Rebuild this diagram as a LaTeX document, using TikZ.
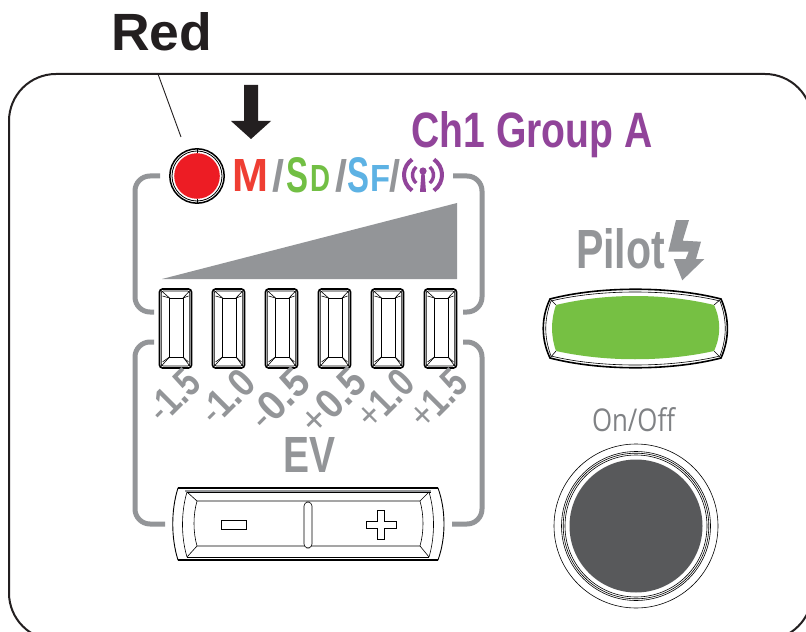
\documentclass[tikz,border=0pt]{standalone}
\usepackage{graphicx}
\usepackage{fontspec}
\setmainfont{Liberation Sans}
\newfontfamily\opensans{Open Sans}
\definecolor{ink}{HTML}{231F20}
\definecolor{fgray}{HTML}{939598}
\definecolor{tgray}{HTML}{808285}
\definecolor{mred}{HTML}{EF3E33}
\definecolor{ledred}{HTML}{ED1C24}
\definecolor{sdgreen}{HTML}{72BF44}
\definecolor{sfblue}{HTML}{5DB2E4}
\definecolor{purp}{HTML}{91449A}
\definecolor{pgreen}{HTML}{76C043}
\definecolor{dgray}{HTML}{58595B}
\newcommand{\fitbox}[3]{\resizebox{#1bp}{#2bp}{#3}}
\newcommand{\evl}[5]{\node[evlabel] (#1) at (#2) {\fitbox{#3}{#4}{#5}};}
\tikzset{
  txt/.style={inner sep=0pt,outer sep=0pt,anchor=north west},
  evlabel/.style={inner sep=0pt,outer sep=0pt,rotate=45,text=fgray,font=\bfseries},
  framegray/.style={draw=fgray,line width=5bp,rounded corners=15bp},
  thinl/.style={draw=ink,line width=0.9bp},
  hair/.style={draw=black,line width=0.6bp},
  panel/.style={draw=ink,line width=2bp,rounded corners=47bp},
  ledbox/.pic={
    \draw[black,line width=1.6bp,rounded corners=3bp] (0,0) rectangle (32,79);
    \draw[hair,rounded corners=2bp] (1.8,2) rectangle (30.2,77);
    \draw[hair] (10,9) rectangle (23.5,68);
    \draw[hair] (1,1) -- (10,9) (31,1) -- (23.5,9) (1,78) -- (10,68) (31,78) -- (23.5,68);
    \draw[hair] (3,7) -- (10,9) (29,7) -- (23.5,9) (3,73) -- (10,68) (29,73) -- (23.5,68);
  }
}
\begin{document}
\begin{tikzpicture}[x=1bp,y=-1bp,line cap=butt]
\useasboundingbox (0,0) rectangle (806,632);
\clip (0,0) rectangle (806,632);
\fill[white] (0,0) rectangle (806,632);
% panel
\draw[panel] (9,74) rectangle (812,640);
% title
\node[txt,text=ink,font=\bfseries] (red) at (111,13) {\fitbox{101}{38}{Red}};
\coordinate (leadA) at (158,74);
\coordinate (leadB) at (181,137);
\draw[thinl] (leadA) -- (leadB);
% arrow
\fill[ink] (244,85) -- (258,85) -- (258,121) -- (271,121) -- (251,139) -- (231,121) -- (244,121) -- cycle;
% LED
\coordinate (led) at (197,176);
\draw[black,line width=1.5bp] (led) circle[radius=27.2];
\draw[black,line width=0.8bp] (led) circle[radius=25];
\fill[ledred] (led) circle[radius=22.8];
\draw[black,line width=0.9bp] (197,149) -- (197,153) (197,199) -- (197,203);
% modes
\node[txt,text=mred,font=\bfseries] (mM) at (232,159) {\fitbox{36}{32}{M}};
\node[txt,text=fgray,font=\bfseries] (s1) at (272,159) {\fitbox{12}{32}{/}};
\node[txt,text=sdgreen,font=\bfseries] (mS) at (286,157) {\fitbox{22}{35}{S}};
\node[txt,text=sdgreen,font=\bfseries] (mD) at (310.5,165) {\fitbox{20}{26}{D}};
\node[txt,text=fgray,font=\bfseries] (s2) at (335.5,159) {\fitbox{12}{32}{/}};
\node[txt,text=sfblue,font=\bfseries] (mS2) at (347,157) {\fitbox{22}{35}{S}};
\node[txt,text=sfblue,font=\bfseries] (mF) at (370.5,165) {\fitbox{20}{26}{F}};
\node[txt,text=fgray,font=\bfseries] (s3) at (389.5,159) {\fitbox{11}{32}{/}};
% wireless icon
\fill[purp] (423,171) circle[radius=3.6];
\fill[purp] (421.5,172) -- (424.5,172) -- (426,192) -- (420,192) -- cycle;
\draw[purp,line width=4bp] (423,175) ++(125:19) arc[start angle=125,end angle=235,radius=19];
\draw[purp,line width=4bp] (423,175) ++(55:19) arc[start angle=55,end angle=-55,radius=19];
\draw[purp,line width=3.4bp] (423,175) ++(130:10.5) arc[start angle=130,end angle=230,radius=10.5];
\draw[purp,line width=3.4bp] (423,175) ++(50:10.5) arc[start angle=50,end angle=-50,radius=10.5];
% channel
\node[txt,text=purp,font=\bfseries] (ch) at (411.5,112) {\fitbox{241}{36}{Ch1 Group A}};
% frames
\draw[framegray] (160,176) -- (135,176) -- (135,312) -- (154,312);
\draw[framegray] (453,176) -- (482,176) -- (482,312) -- (463,312);
\draw[framegray] (154,342) -- (135,342) -- (135,524) -- (165,524);
\draw[framegray] (463,342) -- (482,342) -- (482,524) -- (452,524);
% ramp
\fill[fgray] (162,279) -- (457,203) -- (457,279) -- cycle;
% LED bars
\foreach \i/\x in {1/159.5,2/212.5,3/265.5,4/318.5,5/371.5,6/424.5}
  \pic (bar\i) at (\x,289) {ledbox};
% EV labels
\evl{la}{174,396}{56}{28}{{\mdseries -}1.5}
\evl{lb}{227,397}{60}{28}{{\mdseries -}1.0}
\evl{lc}{279,399}{68}{29}{{\mdseries -}0.5}
\evl{ld}{333,401}{74}{29}{{\mdseries +}0.5}
\evl{le}{385,399}{64}{28}{{\mdseries +}1.0}
\evl{lf}{438,399}{64}{28}{{\mdseries +}1.5}
\node[txt,text=fgray,font=\bfseries] (ev) at (283,437) {\fitbox{52}{35}{EV}};
% rocker
\draw[hair,fill=white,line width=0.9bp] (178,488) .. controls (171,510) and (171,538) .. (178,560) -- (438,560) .. controls (446,538) and (446,510) .. (438,488) -- cycle;
\draw[black,line width=1.6bp] (178,488) -- (438,488);
\draw[black,line width=1.8bp] (178,560) -- (438,560);
\draw[fgray,line width=1.2bp] (185,491) -- (431,491);
\draw[hair] (187,492) .. controls (181,512) and (181,537) .. (187,557);
\draw[hair] (429,492) .. controls (435,512) and (435,537) .. (429,557);
\draw[hair] (187,492) -- (431,492);
\draw[hair] (187,557) -- (429,557);
\draw[hair] (197,501) .. controls (193,515) and (193,532) .. (197,546) -- (420,546) .. controls (424,532) and (424,515) .. (420,501) -- cycle;
\draw[hair] (187,492) -- (197,501) (187,557) -- (197,546) (429,492) -- (420,501) (429,557) -- (420,546);
\draw[hair,fill=white,rounded corners=4bp] (304,502) rectangle (312,548);
\draw[hair] (221,520) rectangle (246,529);
\draw[hair] (377,510) -- (384,510) -- (384,521) -- (396,521) -- (396,528) -- (384,528) -- (384,539) -- (377,539) -- (377,528) -- (366,528) -- (366,521) -- (377,521) -- cycle;
% pilot
\node[txt,text=fgray,font=\bfseries] (pilot) at (576,228) {\fitbox{89}{40}{Pilot}};
\fill[fgray] (676,220) -- (689,220) -- (682.7,240.7) -- (701,241.7) -- (696,259) -- (704.3,259) -- (682.3,280.3) -- (673.7,259) -- (685.7,259) -- (688.7,251.7) -- (668.3,251.7) -- cycle;
% green button
\draw[black,line width=1.6bp] (550,299) .. controls (600,286) and (671,286) .. (721,299) .. controls (729.5,318) and (729.5,339) .. (721,358) .. controls (671,371) and (600,371) .. (550,358) .. controls (541,339) and (541,318) .. (550,299) -- cycle;
\draw[hair] (551,301) .. controls (600,289) and (670,289) .. (720,301) .. controls (727,320) and (727,337) .. (720,356) .. controls (670,368) and (600,368) .. (551,356) .. controls (544,337) and (544,320) .. (551,301) -- cycle;
\draw[hair] (550,299) -- (556,305) (721,299) -- (714,305) (550,358) -- (556,351) (721,358) -- (714,351);
\fill[pgreen] (556,305) .. controls (606,293) and (664,293) .. (714,305) .. controls (721,320) and (721,336) .. (714,351) .. controls (664,362) and (606,362) .. (556,351) .. controls (550.7,336) and (550.7,320) .. (556,305) -- cycle;
% on/off
\node[txt,text=tgray,font=\opensans] (onoff) at (592,407) {\fitbox{83}{24}{On/Off}};
\coordinate (pwr) at (636,526);
\draw[hair] (pwr) circle[radius=82];
\draw[hair] (pwr) circle[radius=74.5];
\draw[hair] (pwr) circle[radius=72.8];
\draw[hair] (pwr) circle[radius=71];
\fill[dgray] (pwr) circle[radius=66.5];
\end{tikzpicture}
\end{document}
